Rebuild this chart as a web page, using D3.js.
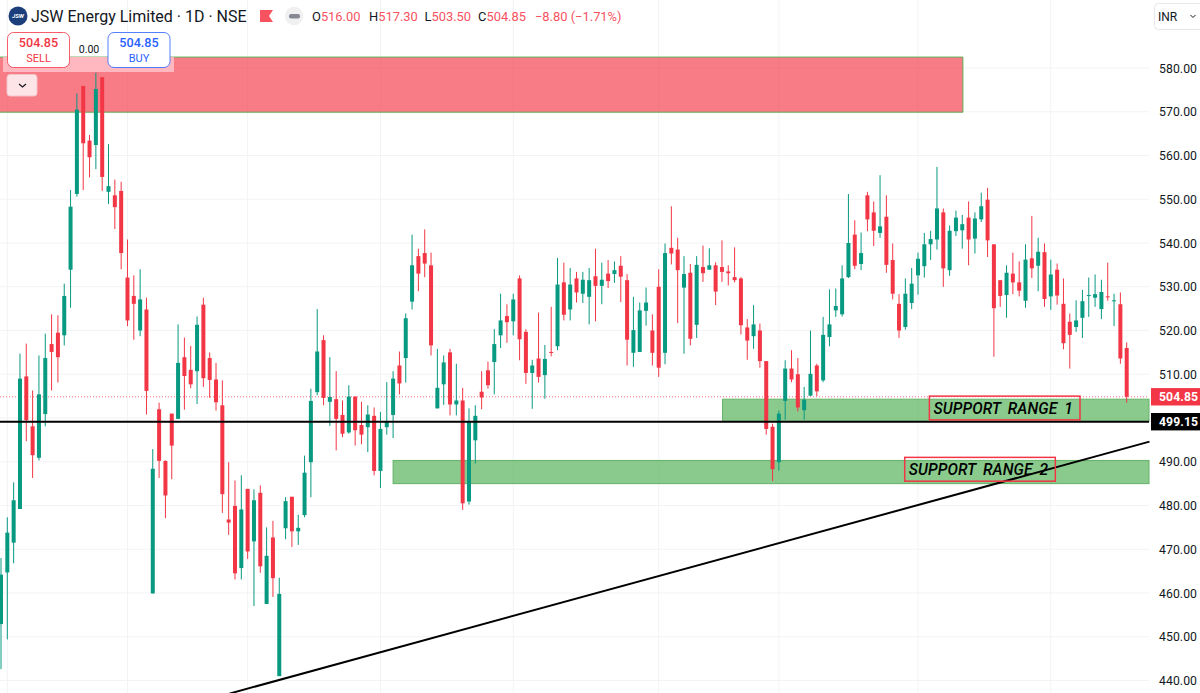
<!DOCTYPE html>
<html>
<head>
<meta charset="utf-8">
<script src="https://cdn.jsdelivr.net/npm/d3@7"></script>
<style>
  html, body { margin: 0; padding: 0; background: #fff; overflow: hidden; }
  text { font-family: Roboto, "Noto Sans", sans-serif; }
</style>
</head>
<body>
<div id="chart"></div>
<script>
const WIDTH = 1200, HEIGHT = 693;
const PLOT_RIGHT = 1149;

const RED = "#f23645", GREEN = "#089981", BLUE = "#2962ff", INK = "#131722";

// daily candles
const opens = [452.9,464.7,471.5,479.2,509.5,498.1,490.9,500.9,516.9,519.5,518.9,533.9,551.2,575.9,563.4,562.4,577.9,551.7,550.9,551.9,
  532.1,527.9,520.0,524.8,459.9,502.0,490.2,501.0,499.8,513.9,511.0,510.7,525.9,513.7,508.8,502.9,476.8,479.9,465.7,483.8,
  471.8,482.9,457.5,472.7,441.0,474.8,482.0,474.1,477.8,489.9,505.9,517.8,503.7,504.3,500.7,496.7,504.9,498.4,497.9,500.5,
  487.9,497.9,500.7,512.0,513.7,526.6,537.0,537.7,534.9,502.2,507.7,515.0,503.1,504.0,480.9,494.9,506.0,510.9,512.8,518.9,
  523.3,522.1,531.9,519.7,510.3,513.6,509.8,515.1,516.4,531.0,524.8,531.9,528.4,527.7,532.4,530.2,533.0,532.9,534.8,531.5,
  514.9,515.1,524.5,520.0,530.0,514.9,538.9,538.5,529.8,533.2,521.3,534.5,533.9,534.9,534.5,533.5,532.2,531.9,520.7,518.7,
  520.0,513.0,498.0,489.9,503.9,511.3,510.0,501.8,505.1,512.0,508.6,518.5,524.6,523.7,532.2,541.9,535.2,550.9,547.0,542.3,
  546.0,536.1,526.1,520.8,526.3,532.6,534.7,539.7,540.8,547.0,533.8,542.7,542.9,545.8,541.0,545.4,549.9,539.7,531.5,528.1,
  533.0,531.0,526.8,536.5,534.8,537.9,527.8,533.9,526.1,522.0,520.8,522.9,527.9,527.5,524.9,527.8,526.7,526.0,516.0];
const highs = [468.0,477.3,485.3,514.7,517.0,506.3,514.3,519.3,523.7,523.5,530.7,552.1,574.2,575.9,564.7,578.9,577.9,562.6,554.5,554.0,
  540.8,532.6,534.0,527.5,492.9,503.5,490.3,501.0,521.4,518.4,516.5,523.2,527.5,515.0,512.6,508.6,489.9,485.7,486.9,483.8,
  483.7,484.6,475.0,476.5,463.5,481.9,482.0,477.9,491.4,506.7,524.9,518.9,513.9,510.7,504.0,507.5,504.9,503.7,502.9,502.4,
  501.4,508.2,510.7,515.2,523.9,541.9,538.7,543.1,537.8,515.8,514.3,515.8,512.4,506.9,502.2,502.9,510.7,512.9,520.3,528.4,
  526.0,528.4,532.6,520.3,513.3,524.1,516.7,525.4,536.6,535.5,534.3,533.4,533.4,534.3,538.7,535.5,536.1,535.8,537.0,532.9,
  527.7,526.4,529.8,523.7,534.0,539.9,548.4,541.2,537.0,535.2,537.0,539.4,538.8,535.6,540.6,534.9,539.0,532.2,522.6,525.8,
  521.6,513.0,498.7,501.7,513.2,515.5,513.7,507.1,520.0,512.4,523.1,529.4,529.6,534.9,551.2,545.2,542.4,551.7,549.5,555.5,
  550.9,539.9,528.3,531.9,534.3,537.8,542.3,542.8,557.4,547.9,544.0,547.4,546.4,549.5,547.0,551.5,552.6,539.7,531.5,534.9,
  537.8,535.8,539.7,546.2,541.2,539.9,536.2,535.3,531.9,523.9,526.9,529.3,532.1,532.8,531.6,535.5,528.4,528.7,517.3];
const lows = [442.6,449.4,466.8,479.2,494.7,486.3,490.3,498.1,506.3,508.1,516.6,525.2,550.6,552.1,555.0,556.9,551.9,548.9,543.2,534.0,
  521.0,517.9,518.7,500.8,459.9,486.3,477.1,486.0,499.8,501.9,506.8,503.2,507.1,504.6,501.7,478.3,473.3,463.1,463.1,467.8,
  457.0,464.6,457.5,459.1,441.0,472.3,470.5,471.0,477.3,481.9,505.2,502.9,498.2,492.6,495.6,496.4,493.7,494.0,492.2,486.9,
  484.0,496.2,495.4,505.4,508.1,524.8,529.0,532.2,514.3,502.2,503.0,500.6,500.6,479.0,480.2,489.6,502.0,506.7,505.4,516.0,
  517.2,518.9,513.2,507.8,502.1,508.1,504.4,514.1,515.5,522.3,522.3,526.4,526.3,521.4,522.1,526.0,529.7,530.9,526.5,512.0,
  511.7,515.1,521.1,512.0,509.4,512.3,535.1,521.7,514.7,516.6,518.3,531.1,533.9,525.8,531.1,530.3,531.0,519.1,513.3,515.8,
  511.5,496.2,485.6,488.0,499.6,508.2,501.5,499.6,505.1,505.0,508.2,516.4,523.1,523.2,532.0,534.0,533.8,542.7,539.3,541.2,
  533.2,527.1,518.3,520.2,524.9,528.2,532.1,536.1,538.5,530.0,532.5,541.6,538.7,534.9,537.6,544.8,536.8,514.0,525.4,522.9,
  528.3,527.8,525.2,532.0,529.0,525.4,524.7,525.9,515.7,511.3,519.7,518.3,523.1,525.4,522.6,526.8,521.0,512.4,503.5];
const closes = [464.2,473.8,481.2,509.0,499.5,491.5,505.4,513.7,515.1,513.9,527.9,548.3,570.5,562.8,559.6,575.2,555.1,553.0,548.2,537.7,
  522.3,526.1,527.1,506.2,488.4,490.2,482.3,493.7,512.6,509.6,507.7,521.3,509.1,508.7,503.6,482.6,476.1,464.5,479.1,469.5,
  481.2,466.1,468.5,463.4,459.8,481.0,474.1,474.9,487.5,503.9,515.2,504.6,504.8,499.8,496.4,504.9,497.2,496.2,500.8,487.9,
  497.5,499.1,509.0,507.9,522.8,534.9,533.0,535.3,516.6,506.9,512.7,503.1,504.0,480.5,499.3,500.5,504.7,507.5,516.9,522.3,
  521.9,527.1,518.0,510.3,512.0,509.4,513.5,514.9,530.5,523.6,530.5,528.7,531.6,531.5,530.2,531.6,531.3,533.8,532.3,517.9,
  520.1,524.6,526.4,514.9,511.5,537.7,537.6,533.8,532.9,518.1,535.0,533.1,534.9,528.9,533.4,533.1,531.5,521.2,517.7,521.4,
  513.0,497.5,488.3,501.0,511.3,508.8,502.4,504.2,510.1,506.1,519.0,521.4,525.6,531.9,540.0,534.8,537.7,545.4,542.8,543.8,
  535.0,528.4,520.0,528.4,530.7,536.4,539.7,540.9,547.9,534.2,542.8,545.8,544.3,540.8,545.6,548.4,540.6,525.1,527.9,533.2,
  531.0,529.1,536.2,534.2,538.0,527.2,532.8,528.0,517.1,519.0,522.3,526.7,528.1,528.3,528.8,527.6,526.9,513.6,504.85];

const priceTicks = [580,570,560,550,540,530,520,510,490,480,470,460,450,440];
const monthStarts = [1,20,39,60,81,104,123,145,166];   // candles that carry a vertical grid line

const lastPrice = 504.85, linePrice = 499.15;
const resistanceZone = [152.1, 582.5, 569.9];           // end candle, top, bottom
const supportStarts = [114.1, 62.0];
const supportTops = [504.3, 490.3];
const supportBottoms = [499.2, 485.0];
const trendCandles = [36.1, 181.6];
const trendPrices = [437.0, 494.6];
const rangeLabels = ["SUPPORT RANGE 1", "SUPPORT RANGE 2"];
const rangeLabelCandles = [146.8, 142.9];
const rangeLabelPrices = [505.0, 491.0];

const x = d3.scaleLinear().domain([0, 178]).range([1, 1126.7]);
const y = d3.scaleLinear().domain([580, 440]).range([68, 680.5]);

const svg = d3.select("#chart").append("svg")
  .attr("width", WIDTH)
  .attr("height", HEIGHT)
  .style("display", "block");

// grid
const grid = svg.append("g").attr("stroke", "#f2f3f5").attr("stroke-width", 1);
grid.selectAll("line.h").data(priceTicks.concat([500])).enter().append("line")
  .attr("x1", 0).attr("x2", PLOT_RIGHT)
  .attr("y1", d => y(d)).attr("y2", d => y(d));
grid.selectAll("line.v").data(monthStarts).enter().append("line")
  .attr("x1", d => x(d)).attr("x2", d => x(d))
  .attr("y1", 0).attr("y2", HEIGHT);

// zones
svg.append("rect")
  .attr("x", 0).attr("y", y(resistanceZone[1]))
  .attr("width", x(resistanceZone[0]))
  .attr("height", y(resistanceZone[2]) - y(resistanceZone[1]))
  .attr("fill", "rgba(242,54,69,0.65)");
svg.append("path")
  .attr("d", `M0,${y(resistanceZone[1])}H${x(resistanceZone[0])}V${y(resistanceZone[2])}H0`)
  .attr("fill", "none").attr("stroke", "#5fae55").attr("stroke-width", 1);

svg.selectAll("rect.support").data(supportStarts).enter().append("rect")
  .attr("class", "support")
  .attr("x", d => x(d))
  .attr("y", (d, i) => y(supportTops[i]))
  .attr("width", d => PLOT_RIGHT - x(d))
  .attr("height", (d, i) => y(supportBottoms[i]) - y(supportTops[i]))
  .attr("fill", "rgba(76,175,80,0.65)")
  .attr("stroke", "#64b267")
  .attr("stroke-width", 1);

// last price dotted line
svg.append("line")
  .attr("x1", 0).attr("x2", PLOT_RIGHT)
  .attr("y1", y(lastPrice)).attr("y2", y(lastPrice))
  .attr("stroke", RED).attr("stroke-opacity", 0.7)
  .attr("stroke-dasharray", "1 2");

// candles
const candles = svg.append("g");
const colorOf = i => closes[i] >= opens[i] ? GREEN : RED;

candles.selectAll("line").data(opens).enter().append("line")
  .attr("x1", (d, i) => x(i)).attr("x2", (d, i) => x(i))
  .attr("y1", (d, i) => y(highs[i])).attr("y2", (d, i) => y(lows[i]))
  .attr("stroke", (d, i) => colorOf(i))
  .attr("stroke-width", 1);

candles.selectAll("rect").data(opens).enter().append("rect")
  .attr("x", (d, i) => x(i) - 2)
  .attr("y", (d, i) => y(Math.max(d, closes[i])))
  .attr("width", 4)
  .attr("height", (d, i) => Math.max(1, Math.abs(y(d) - y(closes[i]))))
  .attr("fill", (d, i) => colorOf(i));

// drawn lines
svg.append("line")
  .attr("x1", 0).attr("x2", PLOT_RIGHT)
  .attr("y1", y(linePrice)).attr("y2", y(linePrice))
  .attr("stroke", "#000").attr("stroke-width", 2);
svg.append("line")
  .attr("x1", x(trendCandles[0])).attr("x2", x(trendCandles[1]))
  .attr("y1", y(trendPrices[0])).attr("y2", y(trendPrices[1]))
  .attr("stroke", "#000").attr("stroke-width", 2);

// range labels
const labels = svg.selectAll("g.range").data(rangeLabels).enter().append("g")
  .attr("class", "range")
  .attr("transform", (d, i) => `translate(${x(rangeLabelCandles[i])},${y(rangeLabelPrices[i])})`);
labels.append("rect")
  .attr("width", 150.6).attr("height", 23.8)
  .attr("fill", "none").attr("stroke", RED).attr("stroke-width", 1.5);
labels.append("text")
  .attr("x", 4).attr("y", 17.5)
  .attr("font-family", "'Open Sans', sans-serif")
  .attr("font-style", "italic")
  .attr("font-weight", 500)
  .attr("font-size", 15.6)
  .attr("word-spacing", 3)
  .attr("letter-spacing", 0.1)
  .attr("fill", "#000")
  .text(d => d);

// price axis
const axis = svg.append("g").attr("font-size", 12.2).attr("fill", INK);
axis.selectAll("text").data(priceTicks).enter().append("text")
  .attr("x", 1159)
  .attr("y", d => y(d) + 4.5)
  .attr("letter-spacing", 0.1)
  .text(d => d3.format(".2f")(d));

const tags = [[lastPrice, RED], [linePrice, "#000"]];
tags.forEach(([price, fill]) => {
  svg.append("rect")
    .attr("x", 1151).attr("y", y(price) - 8.7)
    .attr("width", 49).attr("height", 17.4)
    .attr("fill", fill);
  svg.append("text")
    .attr("x", 1159).attr("y", y(price) + 4.5)
    .attr("font-size", 12.2).attr("font-weight", 700)
    .attr("letter-spacing", 0.1)
    .attr("fill", "#fff")
    .text(d3.format(".2f")(price));
});

// currency box
svg.append("rect")
  .attr("x", 1154.5).attr("y", 3.5).attr("width", 50).attr("height", 26).attr("rx", 4)
  .attr("fill", "#fff").attr("stroke", "#e6e7eb");
svg.append("text").attr("x", 1158).attr("y", 21).attr("font-size", 12).attr("fill", INK).text("INR");
svg.append("path").attr("d", "M1190.5,15l2.5,2.5l2.5,-2.5").attr("fill", "none").attr("stroke", INK).attr("stroke-width", 1);

// header
const header = svg.append("g");
header.append("circle").attr("cx", 18).attr("cy", 16).attr("r", 9.5).attr("fill", "#1c3f7c");
header.append("text").attr("x", 18).attr("y", 18).attr("text-anchor", "middle")
  .attr("font-size", 6).attr("font-weight", 700).attr("font-style", "italic").attr("fill", "#fff").text("JSW");
header.append("text").attr("x", 31).attr("y", 21.8)
  .attr("font-size", 16).attr("fill", INK).text("JSW Energy Limited · 1D · NSE");
header.append("path").attr("d", "M260,10H273L269,16L273,22H260Z").attr("fill", "#f7525f");
header.append("circle").attr("cx", 294).attr("cy", 16).attr("r", 9.2).attr("fill", "#f0f0f1");
header.append("rect").attr("x", 289).attr("y", 14).attr("width", 11).attr("height", 4.4).attr("rx", 2).attr("fill", "#868993");

const ohlcLetters = ["O", "H", "L", "C"];
const ohlcLetterX = [312, 369, 424.5, 478];
const ohlcValues = ["516.00", "517.30", "503.50", "504.85"];
ohlcLetters.forEach((letter, i) => {
  const t = header.append("text").attr("x", ohlcLetterX[i]).attr("y", 21).attr("font-size", 12.9).attr("fill", INK);
  t.append("tspan").text(letter);
  t.append("tspan").attr("fill", "#f7525f").text(ohlcValues[i]);
});
header.append("text").attr("x", 535).attr("y", 21).attr("font-size", 12.9).attr("fill", "#f7525f").text("−8.80 (−1.71%)");

// order buttons
const strip = svg.append("g");
strip.append("rect").attr("x", 3).attr("y", 57).attr("width", 171).attr("height", 15).attr("fill", "#ffb8bf");
const buttonX = [7.5, 108];
const buttonColor = [RED, BLUE];
const buttonLabel = ["SELL", "BUY"];
buttonX.forEach((bx, i) => {
  strip.append("rect").attr("x", bx).attr("y", 32.5).attr("width", 62).attr("height", 35).attr("rx", 6)
    .attr("fill", "#fff").attr("stroke", buttonColor[i]).attr("stroke-opacity", 0.8);
  strip.append("text").attr("x", bx + 31).attr("y", 47).attr("text-anchor", "middle")
    .attr("font-size", 12.6).attr("font-weight", 500).attr("fill", buttonColor[i]).text("504.85");
  strip.append("text").attr("x", bx + 31).attr("y", 61.5).attr("text-anchor", "middle")
    .attr("font-size", 11).attr("fill", buttonColor[i]).text(buttonLabel[i]);
});
strip.append("text").attr("x", 89).attr("y", 53).attr("text-anchor", "middle")
  .attr("font-size", 10.6).attr("fill", INK).text("0.00");
strip.append("rect").attr("x", 7).attr("y", 74.5).attr("width", 30).attr("height", 21.5).attr("rx", 3)
  .attr("fill", "#fde4e6").attr("stroke", "#f3c4c9");
strip.append("path").attr("d", "M19,84l3.5,3l3.5,-3").attr("fill", "none").attr("stroke", INK).attr("stroke-width", 1.2);
</script>
</body>
</html>
